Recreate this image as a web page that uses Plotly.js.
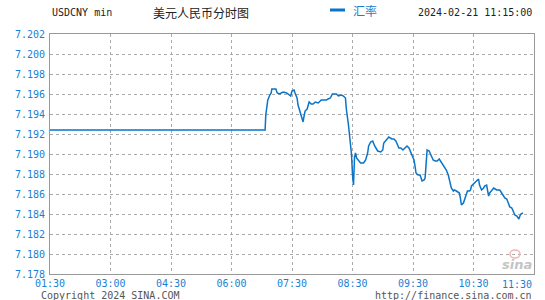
<!DOCTYPE html>
<html>
<head>
<meta charset="utf-8">
<script src="https://cdn.plot.ly/plotly-3.0.1.min.js"></script>
<style>html,body{margin:0;padding:0;background:#fff;}#chart{width:545px;height:300px;}</style>
</head>
<body>
<div id="chart"></div>
<script>
// ---- data ----
const symbol = "USDCNY min";
const chartTitle = "美元人民币分时图";
const seriesName = "汇率";
const stamp = "2024-02-21 11:15:00";
const xTickLabels = ["01:30","03:00","04:30","06:00","07:30","08:30","09:30","10:30","11:30"];
const yTickValues = [7.178,7.180,7.182,7.184,7.186,7.188,7.190,7.192,7.194,7.196,7.198,7.200,7.202];
const times = [
 "01:30","06:50","06:51","06:53","06:54","06:57","06:59","07:00","07:06","07:08","07:12","07:14","07:17","07:22","07:24","07:28",
 "07:30","07:32","07:33","07:35","07:36","07:38","07:40","07:41","07:42","07:43","07:45","07:46","07:47","07:49",
 "07:51","07:53","07:56","07:59","08:03","08:04","08:08","08:10","08:14","08:16","08:19","08:21","08:23","08:24","08:26","08:27","08:28",
 "08:29","08:30","08:31","08:32","08:33","08:34","08:36","08:38","08:41","08:43","08:45","08:46","08:48","08:50","08:52","08:55","08:58",
 "09:00","09:01","09:05","09:06","09:09","09:11","09:13","09:15","09:16","09:18","09:20","09:22","09:24","09:26","09:28","09:29",
 "09:31","09:32","09:33","09:35","09:37","09:39","09:41","09:42","09:43","09:44","09:46","09:48","09:50","09:52","09:54","09:56","09:58",
 "10:00","10:01","10:03","10:05","10:06","10:07","10:08","10:10","10:11","10:13","10:16","10:17","10:18","10:20","10:21","10:23","10:24",
 "10:26","10:27","10:28","10:29","10:31","10:33","10:35","10:36","10:38","10:40","10:41","10:43","10:44","10:45","10:46","10:49","10:50",
 "10:53","10:55","10:56","10:58","11:00","11:01","11:03","11:05","11:06","11:08","11:10","11:11","11:13","11:15","11:16","11:17","11:19"
];
const rates = [
 7.1924,7.1924,7.1939,7.1948,7.1954,7.1959,7.1961,7.1965,7.1965,7.1961,7.1960,7.1961,7.1962,7.1961,7.1960,7.1958,
 7.1963,7.1964,7.1961,7.1956,7.1949,7.1941,7.1936,7.1932,7.1938,7.1943,7.1945,7.1948,7.1952,7.1950,
 7.1950,7.1952,7.1951,7.1954,7.1954,7.1954,7.1956,7.1960,7.1960,7.1958,7.1959,7.1958,7.1956,7.1944,7.1929,7.1919,7.1911,
 7.1900,7.1879,7.1869,7.1897,7.1901,7.1896,7.1893,7.1891,7.1891,7.1894,7.1901,7.1908,7.1912,7.1913,7.1908,7.1903,7.1902,
 7.1904,7.1911,7.1916,7.1917,7.1915,7.1915,7.1913,7.1908,7.1906,7.1906,7.1904,7.1906,7.1908,7.1906,7.1901,7.1898,
 7.1894,7.1888,7.1881,7.1879,7.1879,7.1873,7.1874,7.1876,7.1891,7.1904,7.1903,7.1899,7.1894,7.1893,7.1893,7.1895,7.1892,
 7.1889,7.1888,7.1884,7.1879,7.1874,7.1869,7.1866,7.1863,7.1864,7.1863,7.1861,7.1856,7.1849,7.1851,7.1854,7.1859,7.1863,
 7.1863,7.1864,7.1868,7.1869,7.1871,7.1873,7.1875,7.1869,7.1864,7.1866,7.1868,7.1869,7.1864,7.1858,7.1861,7.1864,7.1866,
 7.1864,7.1864,7.1864,7.1861,7.1858,7.1856,7.1855,7.1849,7.1847,7.1846,7.1842,7.1839,7.1838,7.1835,7.1838,7.1840,7.1841
];

// ---- axis mapping (session axis: 1.5h per grid before 07:30, 1h per grid after) ----
function toMin(t){const p=t.split(":");return (+p[0])*60+(+p[1]);}
const tickMins = xTickLabels.map(toMin);
function toPos(t){
  const m = toMin(t);
  for(let i=0;i<tickMins.length-1;i++){
    if(m<=tickMins[i+1]) return i+(m-tickMins[i])/(tickMins[i+1]-tickMins[i]);
  }
  return tickMins.length-1;
}
const xs = times.map(toPos);
const tickPos = xTickLabels.map((_,i)=>i);

const blue = "#0a74c8";
const labBlue = "#1a7fd4";
const mono = "DejaVu Sans Mono, Liberation Mono, monospace";
const cjk = "Noto Sans CJK SC, sans-serif";

const trace = {
  x: xs, y: rates, type: "scatter", mode: "lines", name: seriesName,
  line: {color: blue, width: 1.5, shape: "linear"}, hoverinfo: "skip", showlegend: false
};

const layout = {
  width: 545, height: 300,
  margin: {l: 50, r: 11, t: 34, b: 26, pad: 0},
  paper_bgcolor: "#fff", plot_bgcolor: "#fff",
  showlegend: false,
  xaxis: {
    range: [0, 8], tickmode: "array", tickvals: tickPos,
    ticktext: xTickLabels.map((s,i)=> i===xTickLabels.length-1 ? "" : s),
    showgrid: true, gridcolor: "#aaaaaa", griddash: "dot", gridwidth: 1,
    showline: true, linecolor: "#999999", linewidth: 1, mirror: true,
    zeroline: false, ticks: "", fixedrange: true,
    tickfont: {family: mono, size: 10, color: labBlue}
  },
  yaxis: {
    range: [7.178, 7.202], tickmode: "array", tickvals: yTickValues,
    ticktext: yTickValues.map(v=>v.toFixed(3)),
    showgrid: true, gridcolor: "#aaaaaa", griddash: "dot", gridwidth: 1,
    showline: true, linecolor: "#999999", linewidth: 1, mirror: true,
    zeroline: false, ticks: "", fixedrange: true, ticklabelstandoff: 2,
    tickfont: {family: mono, size: 10, color: labBlue}
  },
  shapes: [
    {type: "line", xref: "paper", yref: "paper", x0: (330-50)/484, x1: (345-50)/484,
     y0: 1+(34-10)/240, y1: 1+(34-10)/240, line: {color: blue, width: 3}},
    {type: "circle", xref: "paper", yref: "paper", x0: (510-50)/484, x1: (520-50)/484,
     y0: (274-258)/240, y1: (274-250)/240, line: {color: "#f2b5b5", width: 1.5}, fillcolor: "rgba(0,0,0,0)"}
  ],
  annotations: [
    {xref:"paper", yref:"paper", x: 0, y: 1+(34-12)/240, xanchor:"left", yanchor:"middle", showarrow:false,
     text: symbol, font:{family: mono, size: 10, color:"#222"}},
    {xref:"paper", yref:"paper", x: (151-50)/484, y: 1+(34-12)/240, xanchor:"left", yanchor:"middle", showarrow:false,
     text: chartTitle, font:{family: cjk, size: 12, color:"#222"}},
    {xref:"paper", yref:"paper", x: (351-50)/484, y: 1+(34-11)/240, xanchor:"left", yanchor:"middle", showarrow:false,
     text: seriesName, font:{family: cjk, size: 12, color: labBlue}},
    {xref:"paper", yref:"paper", x: 1, y: 1+(34-12)/240, xanchor:"right", yanchor:"middle", showarrow:false,
     text: stamp, font:{family: mono, size: 10, color:"#222"}},
    {xref:"x", yref:"paper", x: tickPos[tickPos.length-1], y: -(284-274)/240, xanchor:"right", yanchor:"middle", showarrow:false,
     text: xTickLabels[xTickLabels.length-1], font:{family: mono, size: 10, color: labBlue}},
    {xref:"paper", yref:"paper", x: (39-50)/484, y: -(295-274)/240, xanchor:"left", yanchor:"middle", showarrow:false,
     text: "Copyright 2024 SINA.COM", font:{family: mono, size: 10, color:"#555"}},
    {xref:"paper", yref:"paper", x: 1, y: -(295-274)/240, xanchor:"right", yanchor:"middle", showarrow:false,
     text: "http://finance.sina.com.cn", font:{family: mono, size: 10, color:"#555"}},
    {xref:"paper", yref:"paper", x: (534-50)/484, y: (274-264)/240, xanchor:"right", yanchor:"middle", showarrow:false,
     text: "<b><i>sina</i></b>", font:{family: "DejaVu Sans, sans-serif", size: 13, color:"#c4c4c4"}}
  ]
};

Plotly.newPlot("chart", [trace], layout, {staticPlot: true, displayModeBar: false});
</script>
</body>
</html>
